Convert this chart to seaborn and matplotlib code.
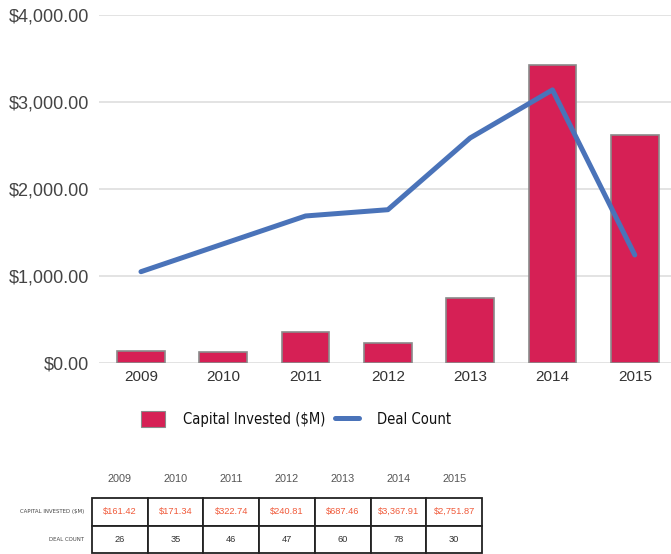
import matplotlib
matplotlib.use("Agg")
import matplotlib.pyplot as plt
import seaborn as sns
import pandas as pd
from matplotlib.ticker import FuncFormatter
from matplotlib.patches import Patch
from matplotlib.lines import Line2D
from matplotlib.font_manager import FontProperties

# Data
years = ["2009", "2010", "2011", "2012", "2013", "2014", "2015"]
capital_bars = [145, 133, 363, 237, 754, 3429, 2624]           # bar heights as drawn ($M)
deal_line = [26.3, 34.3, 42.3, 44.1, 64.7, 78.5, 31.1]          # line as drawn (deal count scale)
capital_labels = ["$161.42", "$171.34", "$322.74", "$240.81", "$687.46", "$3,367.91", "$2,751.87"]
deal_labels = ["26", "35", "46", "47", "60", "78", "30"]
row_labels = ["CAPITAL INVESTED ($M)", "DEAL COUNT"]

BAR_COLOR = "#d62055"
LINE_COLOR = "#4a73b9"

sns.set_style("white")
plt.rcParams["font.family"] = ["Liberation Sans", "DejaVu Sans"]

W, H = 671, 554
fig = plt.figure(figsize=(W / 100, H / 100), dpi=100)

# main chart
ax = fig.add_axes([99 / W, 1 - 363.3 / H, 572 / W, (363.3 - 15) / H])
df = pd.DataFrame({"year": years, "capital": capital_bars})
sns.barplot(data=df, x="year", y="capital", ax=ax, color=BAR_COLOR,
            edgecolor="#8a8a8a", linewidth=1.2, width=0.58, saturation=1)
ax.set_ylim(0, 4000)
ax.set_yticks([0, 1000, 2000, 3000, 4000])
ax.yaxis.set_major_formatter(FuncFormatter(lambda v, p: f"${v:,.2f}"))
ax.yaxis.grid(True, color="#dedede", linewidth=1.2)
ax.set_axisbelow(True)
for s in ax.spines.values():
    s.set_visible(False)
ax.tick_params(axis="y", length=0, pad=7, labelsize=13, labelcolor="#444444")
ax.tick_params(axis="x", length=0, pad=5, labelsize=11, labelcolor="#333333")
ax.set_xlabel("")
ax.set_ylabel("")

ax2 = ax.twinx()
sns.pointplot(x=years, y=deal_line, ax=ax2, color=LINE_COLOR, markers="",
              linewidth=3.6, errorbar=None)
ax2.set_ylim(0, 100)
ax2.axis("off")
ax.set_xlim(-0.51, 6.44)
ax2.set_xlim(-0.51, 6.44)

# legend
legend_font = FontProperties(family="DejaVu Sans", stretch="condensed", size=10.6)
handles = [Patch(facecolor=BAR_COLOR, edgecolor="#8a8a8a", linewidth=0.8),
           Line2D([0], [0], color=LINE_COLOR, linewidth=3.6)]
fig.legend(handles, ["Capital Invested ($M)", "Deal Count"], loc="center",
           bbox_to_anchor=(296 / W, 1 - 419 / H), ncol=2, frameon=False,
           prop=legend_font, labelcolor="#111111",
           handlelength=1.6, handleheight=1.25, handletextpad=1.2, columnspacing=0.7)

# table
tab = fig.add_axes([92 / W, 1 - 553 / H, 390 / W, 55 / H])
tab.axis("off")
t = tab.table(cellText=[capital_labels, deal_labels], cellLoc="center", bbox=[0, 0, 1, 1])
t.auto_set_font_size(False)
for (r, c), cell in t.get_celld().items():
    cell.set_edgecolor("#222222")
    cell.set_linewidth(1.3)
    cell.get_text().set_fontsize(6.7)
    cell.get_text().set_color("#f05a3a" if r == 0 else "#333333")
small_font = FontProperties(family="DejaVu Sans", stretch="condensed", size=4.3)
for i, lab in enumerate(row_labels):
    tab.text(-0.02, 0.75 - 0.5 * i, lab, transform=tab.transAxes, ha="right", va="center",
             fontproperties=small_font, color="#444444")
for i, y in enumerate(years):
    tab.text((i + 0.5) / 7, 1 + 19 / 55, y, transform=tab.transAxes, ha="center", va="center",
             fontsize=7.8, color="#555555")

fig.savefig("out.png", dpi=100)
